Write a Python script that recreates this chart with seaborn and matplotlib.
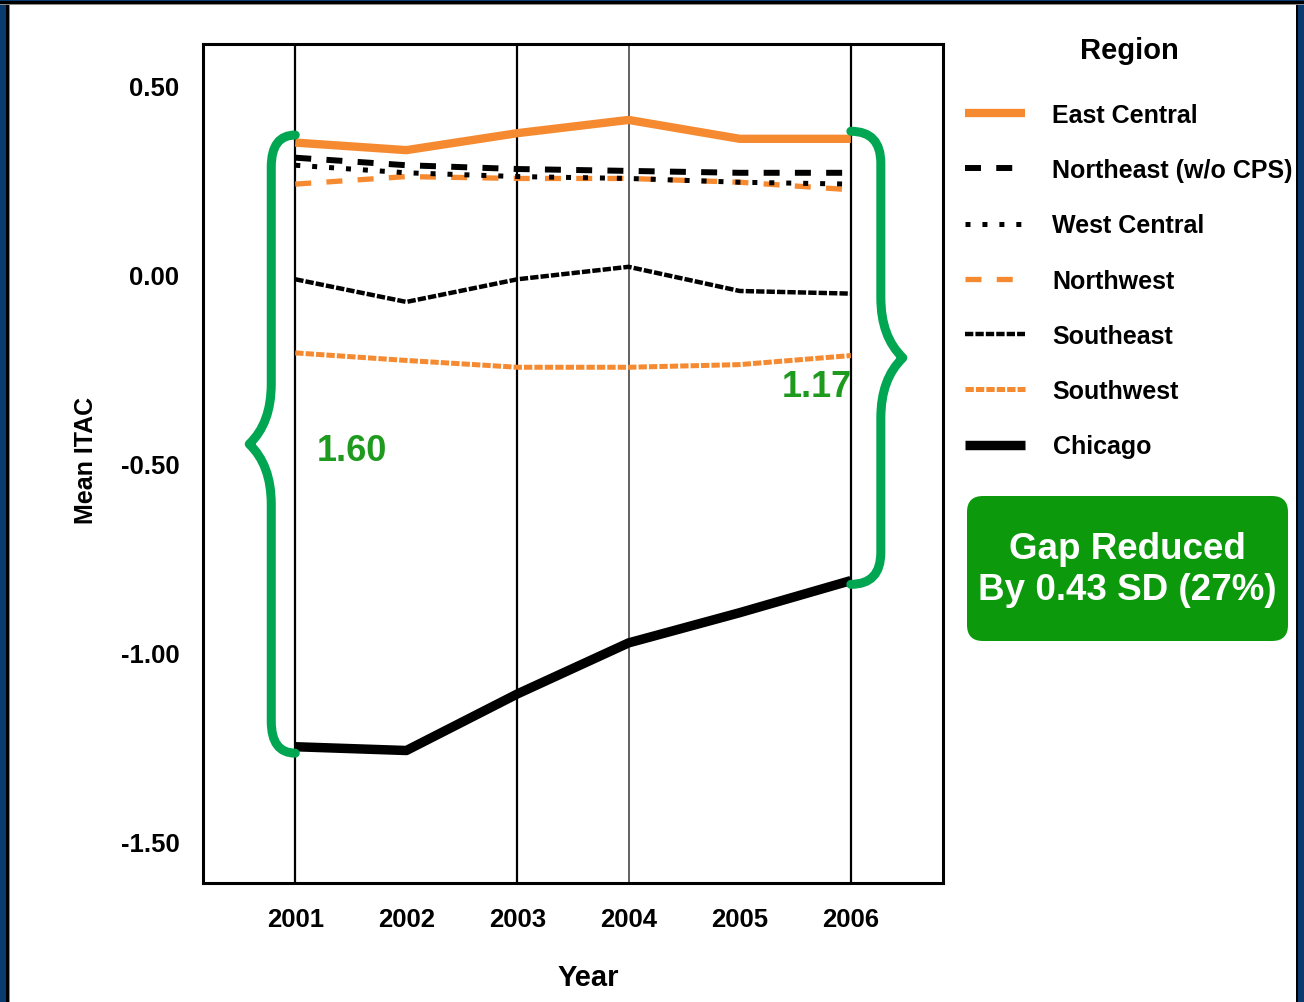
import numpy as np
import pandas as pd
import matplotlib
matplotlib.use("Agg")
import matplotlib.pyplot as plt
import seaborn as sns
from matplotlib.path import Path
from matplotlib.patches import PathPatch, FancyBboxPatch, Rectangle
from matplotlib.transforms import IdentityTransform

# ---- data -------------------------------------------------------------
years = [2001, 2002, 2003, 2004, 2005, 2006]
regions = ["East Central", "Northeast (w/o CPS)", "West Central", "Northwest",
           "Southeast", "Southwest", "Chicago"]
east_central = [0.35, 0.33, 0.375, 0.41, 0.36, 0.36]
northeast = [0.31, 0.29, 0.28, 0.275, 0.27, 0.27]
west_central = [0.29, 0.27, 0.26, 0.255, 0.245, 0.24]
northwest = [0.24, 0.26, 0.255, 0.255, 0.245, 0.225]
southeast = [-0.012, -0.072, -0.012, 0.021, -0.043, -0.05]
southwest = [-0.207, -0.227, -0.245, -0.245, -0.238, -0.214]
chicago = [-1.25, -1.26, -1.11, -0.975, -0.895, -0.81]
y_ticks = [0.50, 0.00, -0.50, -1.00, -1.50]
grid_years = [2001, 2003, 2004, 2006]

series = {
    "East Central": east_central,
    "Northeast (w/o CPS)": northeast,
    "West Central": west_central,
    "Northwest": northwest,
    "Southeast": southeast,
    "Southwest": southwest,
    "Chicago": chicago,
}
df = pd.DataFrame([
    {"Year": yr, "Mean ITAC": v, "Region": name}
    for name, vals in series.items() for yr, v in zip(years, vals)
])

# ---- style ------------------------------------------------------------
ORANGE = "#F58A31"
GREEN_BRACE = "#00A651"
GREEN_TEXT = "#1E9B1E"
GREEN_BOX = "#0C9A0C"
NAVY = "#0B3A6E"

line_styles = {
    "East Central": dict(color=ORANGE, linewidth=6.0, linestyle="-"),
    "Northeast (w/o CPS)": dict(color="black", linewidth=4.3, linestyle=(0, (11.5, 11))),
    "West Central": dict(color="black", linewidth=3.6, linestyle=(0, (3.6, 8.6))),
    "Northwest": dict(color=ORANGE, linewidth=3.8, linestyle=(0, (11.5, 11))),
    "Southeast": dict(color="black", linewidth=3.2, linestyle=(0, (6, 1.5))),
    "Southwest": dict(color=ORANGE, linewidth=3.6, linestyle=(0, (6, 1.5))),
    "Chicago": dict(color="black", linewidth=6.8, linestyle="-"),
}
draw_order = ["Chicago", "Southwest", "Southeast", "Northwest",
              "West Central", "Northeast (w/o CPS)", "East Central"]

sns.set_style("white")
plt.rcParams["font.family"] = ["Liberation Sans", "DejaVu Sans"]
plt.rcParams["font.weight"] = "bold"
plt.rcParams["axes.labelweight"] = "bold"
plt.rcParams["text.color"] = "black"
plt.rcParams["axes.labelcolor"] = "black"
plt.rcParams["xtick.color"] = "black"
plt.rcParams["ytick.color"] = "black"
plt.rcParams["lines.scale_dashes"] = False
plt.rcParams["lines.solid_capstyle"] = "butt"

fig = plt.figure(figsize=(13.04, 10.03), dpi=100)
fig.patch.set_facecolor("white")
ax = fig.add_axes([0.1557, 0.1186, 0.5675, 0.8365])

ax.set_xlim(2000.17, 2006.83)
ax.set_ylim(-1.611, 0.611)

# vertical reference lines
for yr in grid_years:
    ax.axvline(yr, color="#555555" if yr == 2004 else "black",
               linewidth=1.3 if yr == 2004 else 1.6, zorder=1)

handles = {}
for name in draw_order:
    sub = df[df["Region"] == name]
    sns.lineplot(data=sub, x="Year", y="Mean ITAC", ax=ax, legend=False,
                 zorder=3, **line_styles[name])
    handles[name] = ax.lines[-1]

# axes, ticks, labels
ax.set_xticks(years)
ax.set_xticklabels([str(y) for y in years])
ax.set_yticks(y_ticks)
ax.set_yticklabels([f"{t:.2f}" for t in y_ticks])
ax.tick_params(axis="both", direction="out", length=12, width=2, pad=5,
               labelsize=18.5, color="black", labelcolor="black")
ax.tick_params(axis="x", length=12, pad=5)
for sp in ax.spines.values():
    sp.set_visible(True)
    sp.set_color("black")
    sp.set_linewidth(2.2)

ax.set_xlabel("Year", fontsize=21, fontweight="bold", color="black")
ax.xaxis.set_label_coords(0.52, -0.095)
ax.set_ylabel("Mean ITAC", fontsize=18, fontweight="bold", color="black")
ax.yaxis.set_label_coords(-0.142, 0.505)

# legend
leg = ax.legend(handles=[handles[r] for r in regions], labels=regions,
                title="Region", loc="upper left",
                bbox_to_anchor=(965 / 1304, 1 - 37 / 1003),
                bbox_transform=fig.transFigure, frameon=False,
                fontsize=18, title_fontsize=21, handlelength=2.4,
                handletextpad=1.1, labelspacing=1.25, borderpad=0,
                borderaxespad=0)
leg.get_title().set_fontweight("bold")
leg.get_title().set_color("black")
for t in leg.get_texts():
    t.set_color("black")
leg._legend_box.sep = 28


# curly braces marking the East Central - Chicago gap
def brace(x_end, y_top, y_bot, direction, depth_px, arm_px, end_r_px, mid_r_px):
    p0 = ax.transData.transform((0, 0))
    sx = ax.transData.transform((1, 0))[0] - p0[0]
    sy = ax.transData.transform((0, 1))[1] - p0[1]

    def X(px):
        return x_end + direction * px / sx

    ymid = (y_top + y_bot) / 2
    verts = [
        (X(0), y_top),
        (X(arm_px), y_top), (X(arm_px), y_top - end_r_px / sy),
        (X(arm_px), ymid + mid_r_px / sy),
        (X(arm_px), ymid + 0.35 * mid_r_px / sy), (X(depth_px), ymid),
        (X(arm_px), ymid - 0.35 * mid_r_px / sy), (X(arm_px), ymid - mid_r_px / sy),
        (X(arm_px), y_bot + end_r_px / sy),
        (X(arm_px), y_bot), (X(0), y_bot),
    ]
    codes = [Path.MOVETO,
             Path.CURVE3, Path.CURVE3,
             Path.LINETO,
             Path.CURVE3, Path.CURVE3,
             Path.CURVE3, Path.CURVE3,
             Path.LINETO,
             Path.CURVE3, Path.CURVE3]
    patch = PathPatch(Path(verts, codes), facecolor="none", edgecolor=GREEN_BRACE,
                      linewidth=6.5, capstyle="round", joinstyle="round",
                      zorder=5, clip_on=False)
    ax.add_patch(patch)


gap_start = east_central[0] - chicago[0]
gap_end = east_central[-1] - chicago[-1]
brace(years[0], east_central[0] + 0.02, chicago[0] - 0.017, -1, 46, 24, 32, 60)
brace(years[-1], east_central[-1] + 0.02, chicago[-1] - 0.01, 1, 52, 30, 32, 60)

ax.text(2001.51, -0.466, f"{gap_start:.2f}", color=GREEN_TEXT, fontsize=26,
        fontweight="bold", ha="center", va="center", zorder=6)
ax.text(2005.69, -0.297, f"{gap_end:.2f}", color=GREEN_TEXT, fontsize=26,
        fontweight="bold", ha="center", va="center", zorder=6)

# summary box
reduction = gap_start - gap_end
pct = reduction / gap_start * 100
box = FancyBboxPatch((967, 1003 - 642), 321, 145,
                     boxstyle="round,pad=0,rounding_size=16",
                     facecolor=GREEN_BOX, edgecolor="none",
                     transform=IdentityTransform())
fig.add_artist(box)
fig.text(1127 / 1304, 1 - 570 / 1003,
         f"Gap Reduced\nBy {reduction:.2f} SD ({pct:.0f}%)",
         color="white", fontsize=26.5, fontweight="bold", ha="center",
         va="center", linespacing=1.25)

# slide frame
W, H = 1304, 1003
for x0, w, c in [(0, 6, NAVY), (6, 3, "black"), (9, 1, "#8A8A8A"),
                 (1298, 6, NAVY), (1296, 2, "black")]:
    fig.add_artist(Rectangle((x0 / W, 0), w / W, 1, transform=fig.transFigure,
                             facecolor=c, edgecolor="none"))
for y0, h, c in [(0, 2, NAVY), (2, 3, "black"), (5, 1, "#8A8A8A")]:
    fig.add_artist(Rectangle((0, 1 - (y0 + h) / H), 1, h / H,
                             transform=fig.transFigure, facecolor=c,
                             edgecolor="none"))

fig.savefig("out.png", dpi=100)
